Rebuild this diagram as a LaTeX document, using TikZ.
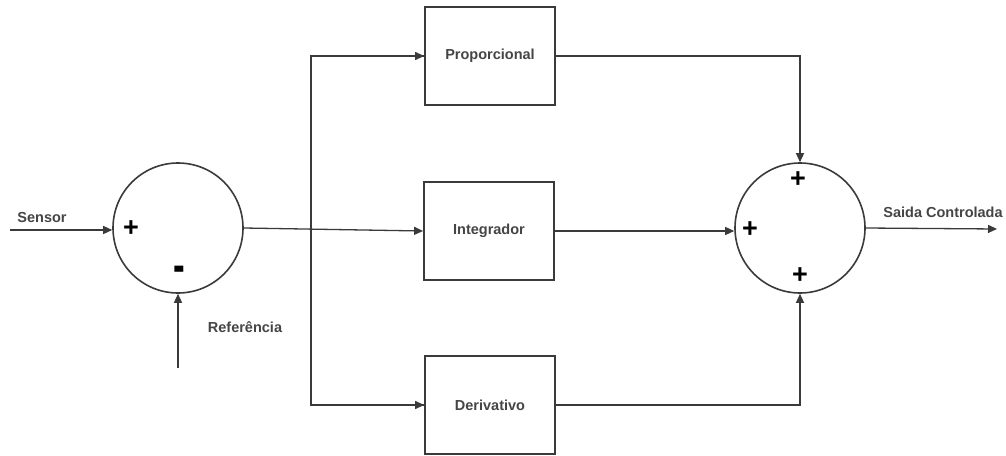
\documentclass[tikz,border=0pt]{standalone}
\usepackage{fontspec}
\setmainfont{Liberation Sans}
\usetikzlibrary{arrows.meta}
\definecolor{ln}{HTML}{3a3a3a}
\definecolor{tx}{HTML}{454545}
\begin{document}
\begin{tikzpicture}[x=1pt,y=-1pt,
  blk/.style={draw=ln,line width=1.8pt,minimum width=130pt,minimum height=98pt,inner sep=0pt,font=\bfseries\fontsize{14.5}{16}\selectfont,text=tx},
  sumc/.style={draw=ln,line width=1.6pt,circle,minimum size=130pt,inner sep=0pt},
  arr/.style={draw=ln,line width=1.3pt,-{Triangle[length=9pt,width=8pt]}},
  ln/.style={draw=ln,line width=1.3pt},
  lbl/.style={font=\bfseries\fontsize{14.5}{16}\selectfont,text=tx,inner sep=0pt},
  sg/.style={font=\bfseries\fontsize{27}{27}\selectfont,text=black,inner sep=0pt}]
\useasboundingbox (0,0) rectangle (1006,455);
\node[sumc] (s1) at (178,228) {};
\node[sumc] (s2) at (800,228) {};
\node[blk] (p) at (490,56) {Proporcional};
\node[blk] (i) at (489,231) {Integrador};
\node[blk] (d) at (490,405) {Derivativo};
\coordinate (sin) at (10,230);
\coordinate (rin) at (178,368);
\coordinate (out) at (997,229);
\coordinate (split) at (311,231);
% signs
\node[sg] at (131,229) {+};
\node[sg] at (179,274) {\scalebox{1.3}[1.9]{-}};
\node[sg] at (798,180) {+};
\node[sg] at (750,230) {+};
\node[sg] at (800,276) {+};
% labels
\node[lbl] at (42,218) {Sensor};
\node[lbl] at (245,327) {Referência};
\node[lbl] at (943,212) {Saida Controlada};
% connectors
\draw[arr] (sin) -- (sin -| s1.west);
\draw[arr] (rin) -- (s1.south);
\draw[arr] (s1.east) -- (i.west);
\draw[ln] (split) |- (p.west);
\draw[arr] (split |- p.west) -- (p.west);
\draw[ln] (split) |- (d.west);
\draw[arr] (split |- d.west) -- (d.west);
\draw[arr] (p.east) -| (s2.north);
\draw[arr] (i.east) -- (i.east -| s2.west);
\draw[arr] (d.east) -| (s2.south);
\draw[arr] (s2.east) -- (out);
\end{tikzpicture}
\end{document}
